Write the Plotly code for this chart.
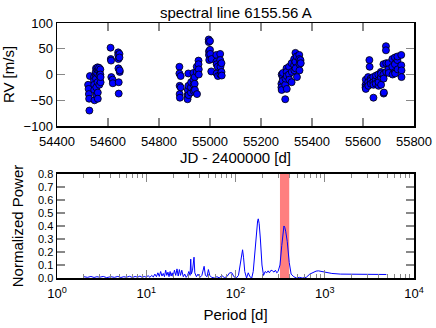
import plotly.graph_objects as go

# ---- RV time series (JD - 2400000, RV m/s) ----
jd = [54522, 54524, 54525, 54526, 54527, 54529,
      54545, 54545, 54546, 54546, 54547,
      54552, 54552, 54553, 54553, 54554, 54554,
      54558, 54558, 54559, 54559, 54560, 54560,
      54565, 54565, 54566, 54566,
      54570, 54570, 54571, 54571,
      54610, 54611, 54612, 54613, 54618, 54619,
      54640, 54640, 54641, 54641, 54642, 54642,
      54645, 54645, 54646, 54646,
      54880, 54880, 54881, 54881, 54882,
      54885, 54885,
      54912, 54912, 54913,
      54915, 54915, 54916,
      54925, 54925, 54926,
      54935, 54935, 54936, 54936,
      54940, 54940, 54941,
      54948, 54948, 54949,
      54955, 54955, 54956, 54956,
      54995, 54995, 54996, 54996, 54997,
      55000, 55000, 55001,
      55005, 55006,
      55025, 55025, 55026, 55026,
      55030, 55031,
      55040, 55040, 55041, 55041,
      55045, 55045, 55046,
      55280, 55280, 55281, 55281,
      55285, 55285, 55286,
      55295, 55295, 55296,
      55300, 55300, 55301, 55301,
      55310, 55310, 55311,
      55320, 55320, 55321,
      55330, 55330, 55331,
      55335, 55335, 55336,
      55340, 55341,
      55350, 55350, 55351, 55351,
      55355, 55356,
      55610, 55610, 55611, 55611,
      55620, 55620, 55621,
      55625, 55626,
      55630, 55630, 55631,
      55640, 55640, 55641, 55641,
      55650, 55650, 55651,
      55660, 55660, 55661, 55661,
      55670, 55670, 55671, 55671,
      55680, 55680, 55681, 55681, 55682,
      55690, 55690, 55691, 55691,
      55700, 55700, 55701,
      55715, 55715, 55716,
      55725, 55725, 55726, 55726,
      55735, 55735, 55736,
      55750, 55750, 55751, 55751]
rv = [-20, -28, -38, -47, -70, -3,
      -5, -12, -20, -30, -50,
      0, 5, 12, -8, -25, -40,
      2, 10, 14, -15, -35, -47,
      8, 13, -2, -20,
      10, 0, -15, -5,
      52, 30, 27, -5, -10, -17,
      43, 38, 30, 12, -15, -37,
      40, 33, 5, 8,
      15, 2, -22, -38, -45,
      -3, -25,
      -40, -48, -30,
      2, -22, -40,
      -35, -25, -15,
      3, -10, -20, -32,
      -5, -18, -30,
      5, 15, -38,
      27, 20, 10, 0,
      68, 63, 45, 38, 28,
      65, 48, 40,
      6, 30,
      38, 25, 20, 2,
      15, -3,
      40, 28, 15, 0,
      22, 5, -2,
      -18, -25, -30, 0,
      -5, -12, 3,
      -48, -20, -8,
      12, 5, -3, -28,
      15, 0, -10,
      22, -15, 5,
      30, 18, 8,
      42, 25, 12,
      35, -5,
      38, 30, 20, 8,
      28, 22,
      -20, -25, -10, -28,
      -5, -15, -22,
      28, 15,
      -8, -12, -18,
      -5, -15, -20, -45,
      -10, -18, -2,
      0, -12, -22, -15,
      5, -5, 2, -20,
      20, 0, -8, -37, -35,
      55, 47, 22, 5,
      22, 10, 3,
      30, 15, 0,
      33, 20, 5, 2,
      28, 35, 10,
      38, 18, 8, -5]

# ---- Periodogram ----
period = [2.0, 2.2, 2.4, 2.6, 2.8, 3.0, 3.3, 3.6, 4.0, 4.4, 4.8, 5.2, 5.6, 6.0,
          6.5, 7.0, 7.5, 8.0, 8.5, 9.0, 9.5, 10.0, 10.5, 11.0, 11.5, 12.0, 12.5,
          13.0, 13.5, 14.0, 14.5, 15.0, 15.5, 16.0, 16.5, 17.0, 17.5, 18.0, 18.5,
          19.0, 19.5, 20.0, 20.7, 21.4, 22.1, 22.8, 23.5, 24.2, 25.0, 26.0, 27.0,
          28.0, 29.0, 30.0, 31.0, 31.5, 32.0, 33.0, 34.3, 35.0, 36.5, 38.0, 40.0,
          42.0, 44.5, 46.0, 48.0, 49.7, 51.5, 54.0, 58.0, 62.0, 66.0, 70.0, 75.0,
          80.0, 86.0, 91.0, 96.0, 102, 108, 113, 117, 120, 123, 127, 133, 139,
          145, 152, 158, 165, 172, 177, 180, 184, 190, 198, 206, 215, 224, 232,
          240, 250, 260, 270, 280, 290, 300, 315, 330, 340, 349, 356, 365, 380,
          400, 420, 450, 480, 520, 560, 620, 680, 740, 800, 850, 900, 1000, 1200,
          1500, 2000, 2500, 3000, 4000, 4900]
power = [0.01, 0.005, 0.012, 0.004, 0.01, 0.006, 0.012, 0.003, 0.01, 0.005, 0.012,
         0.004, 0.01, 0.006, 0.013, 0.004, 0.012, 0.006, 0.015, 0.005, 0.012, 0.006,
         0.018, 0.005, 0.02, 0.008, 0.03, 0.01, 0.04, 0.012, 0.05, 0.015, 0.035,
         0.01, 0.06, 0.02, 0.045, 0.01, 0.05, 0.015, 0.04, 0.012, 0.06, 0.02, 0.07,
         0.015, 0.065, 0.02, 0.06, 0.01, 0.03, 0.005, 0.02, 0.05, 0.02, 0.145, 0.03,
         0.06, 0.16, 0.04, 0.01, 0.03, 0.005, 0.02, 0.09, 0.02, 0.01, 0.065, 0.02,
         0.005, 0.0, 0.01, 0.0, 0.02, 0.003, 0.01, 0.04, 0.04, 0.01, 0.0, 0.02, 0.1,
         0.19, 0.217, 0.16, 0.05, 0.0, 0.04, 0.01, 0.0, 0.05, 0.2, 0.38, 0.44, 0.455,
         0.42, 0.3, 0.1, 0.02, 0.05, 0.04, 0.055, 0.04, 0.06, 0.055, 0.045, 0.06,
         0.04, 0.05, 0.1, 0.25, 0.36, 0.40, 0.39, 0.36, 0.28, 0.12, 0.03, 0.01, 0.0,
         0.005, 0.0, 0.005, 0.03, 0.045, 0.053, 0.055, 0.052, 0.045, 0.035, 0.03,
         0.028, 0.027, 0.027, 0.027, 0.027]

band = [315, 400]
x_ticks = [54400, 54600, 54800, 55000, 55200, 55400, 55600, 55800]
rv_ticks = [-100, -50, 0, 50, 100]
pw_ticks = [0.0, 0.1, 0.2, 0.3, 0.4, 0.5, 0.6, 0.7, 0.8]
log_ticks = [1, 10, 100, 1000, 10000]
log_labels = ["10<sup>0</sup>", "10<sup>1</sup>", "10<sup>2</sup>", "10<sup>3</sup>", "10<sup>4</sup>"]
log_minor = [m * d for d in [1, 10, 100, 1000] for m in range(2, 10)]

FONT = "Liberation Sans"
fig = go.Figure()
fig.add_trace(go.Scatter(x=jd, y=rv, mode="markers", xaxis="x", yaxis="y",
                         marker=dict(size=7, color="#0000ff",
                                     line=dict(color="black", width=0.8)),
                         showlegend=False, cliponaxis=False))
fig.add_trace(go.Scatter(x=period, y=power, mode="lines", xaxis="x2", yaxis="y2",
                         line=dict(color="#0000ff", width=1), showlegend=False))

fig.add_shape(type="rect", xref="x2", yref="y2 domain", x0=band[0], x1=band[1],
              y0=0, y1=1, fillcolor="red", opacity=0.5, line=dict(width=0),
              layer="below")

axcommon = dict(showgrid=False, zeroline=False, showline=True, linecolor="black",
                linewidth=1.5, mirror="ticks", ticks="inside", tickcolor="#888888",
                tickwidth=1.2, ticklen=8, automargin=False)
tf13 = dict(family=FONT, size=13, color="black")
tf11 = dict(family=FONT, size=11, color="black")

fig.update_layout(
    width=436, height=328,
    margin=dict(l=57, r=22, t=23, b=50),
    paper_bgcolor="white", plot_bgcolor="white",
    font=dict(family=FONT, size=13, color="black"),
    xaxis=dict(**axcommon, tickfont=tf13, domain=[0, 1], anchor="y", range=[54400, 55800],
               tickvals=x_ticks, tickformat="d", ticklabelstandoff=3,
               title=dict(text="JD - 2400000 [d]", font=dict(family=FONT, size=15), standoff=2)),
    yaxis=dict(**axcommon, tickfont=tf13, domain=[0.596, 1], anchor="x", range=[-100, 100],
               tickvals=rv_ticks,
               title=dict(text="RV [m/s]", font=dict(family=FONT, size=15), standoff=11)),
    xaxis2=dict(**axcommon, tickfont=tf13, domain=[0, 1], anchor="y2", type="log", range=[0, 4],
                tickvals=log_ticks, ticktext=log_labels, ticklabelstandoff=3,
                minor=dict(ticks="inside", ticklen=4, tickcolor="#888888", tickwidth=1,
                           tickvals=log_minor, showgrid=False),
                title=dict(text="Period [d]", font=dict(family=FONT, size=15), standoff=9)),
    yaxis2=dict(**axcommon, tickfont=tf11, domain=[0, 0.408], anchor="x2", range=[0, 0.8],
                tickvals=pw_ticks, tickformat=".1f",
                title=dict(text="Normalized Power", font=dict(family=FONT, size=15), standoff=10)),
    annotations=[dict(text="spectral line 6155.56 A", xref="paper", yref="paper",
                      x=0.5, y=1, yanchor="bottom", xanchor="center", showarrow=False,
                      yshift=0, font=dict(family=FONT, size=15))],
)

fig.write_html("out.html", config={"displayModeBar": False, "staticPlot": True},
               post_script="document.body.style.margin='0px';document.body.style.overflow='hidden';")
